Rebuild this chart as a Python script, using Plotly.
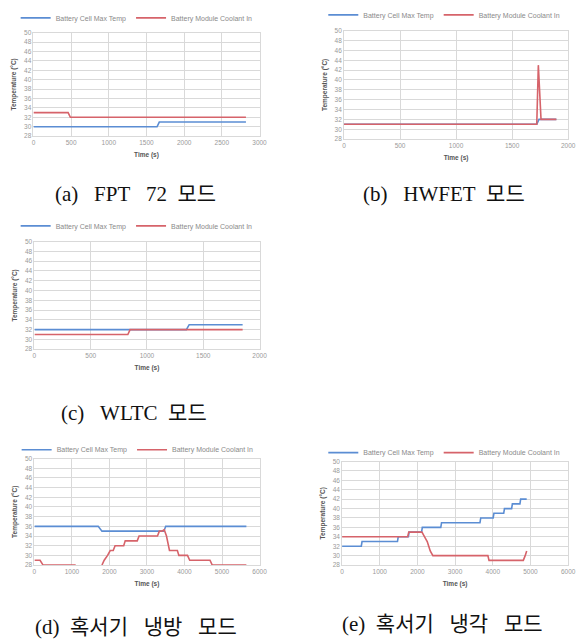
import plotly.graph_objects as go

W, H = 584, 642

# ---------------- data ----------------
# (a) FPT 72
a_cell_t = [0, 1640, 1670, 2820]
a_cell_v = [30, 30, 31, 31]
a_cool_t = [0, 460, 490, 2820]
a_cool_v = [33, 33, 32, 32]

# (b) HWFET
b_cell_t = [0, 1720, 1740, 1895]
b_cell_v = [31, 31, 32, 32]
b_cool_t = [0, 1720, 1734, 1758, 1895]
b_cool_v = [31, 31, 43, 32, 32]

# (c) WLTC
c_cell_t = [0, 1350, 1375, 1850]
c_cell_v = [32, 32, 33, 33]
c_cool_t = [0, 830, 850, 1850]
c_cool_v = [31, 31, 32, 32]

# (d) hot-weather A/C mode
d_cell_t = [0, 1700, 1800, 3450, 3500, 5650]
d_cell_v = [36, 36, 35, 35, 36, 36]
d_cool_t = [0, 150, 230, 1100, None, 1800, 1860, 1950, 2020, 2100, 2150, 2380, 2420,
            2740, 2790, 3280, 3330, 3400, 3460, 3520, 3560, 3600, 3810, 3850, 4080,
            4140, 4680, 4740, 5650]
d_cool_v = [29, 29, 28, 28, None, 28, 29, 30, 31, 31, 32, 32, 33,
            33, 34, 34, 35, 35, 35.3, 34, 32, 31, 31, 30, 30,
            29, 29, 28, 28]

# (e) hot-weather cooling mode
e_cell_t = [0, 510, 530, 1470, 1490, 1760, 1780, 2110, 2130, 2620, 2640, 3660, 3680,
            4010, 4030, 4290, 4310, 4500, 4520, 4720, 4740, 4900]
e_cell_v = [32, 32, 33, 33, 34, 34, 35, 35, 36, 36, 37, 37, 38,
            38, 39, 39, 40, 40, 41, 41, 42, 42]
e_cool_t = [0, 1740, 1770, 2120, 2190, 2260, 2300, 2340, 2410, 3870, 3900, 4810, 4860, 4900]
e_cool_v = [34, 34, 35, 35, 34, 33, 32, 31, 30, 30, 29, 29, 30, 31]

series_names = ["Battery Cell Max Temp", "Battery Module Coolant In"]
S2 = "\u00a0\u00a0"
S3 = "\u00a0\u00a0\u00a0"
captions = ["(a)" + S3 + "FPT" + S3 + "72" + S2 + "모드",
            "(b)" + S3 + "HWFET" + S2 + "모드",
            "(c)" + S3 + "WLTC" + S2 + "모드",
            "(d)" + S2 + "혹서기" + S3 + "냉방" + S3 + "모드",
            "(e)" + S2 + "혹서기" + S3 + "냉각" + S3 + "모드"]
x_max = [3000, 2000, 2000, 6000, 6000]
x_dtick = [500, 500, 500, 1000, 1000]
y_ticks = list(range(28, 51, 2))

panels = [
    (a_cell_t, a_cell_v, a_cool_t, a_cool_v),
    (b_cell_t, b_cell_v, b_cool_t, b_cool_v),
    (c_cell_t, c_cell_v, c_cool_t, c_cool_v),
    (d_cell_t, d_cell_v, d_cool_t, d_cool_v),
    (e_cell_t, e_cell_v, e_cool_t, e_cool_v),
]

# ---------------- layout geometry (pixels) ----------------
# left, right, top, bottom of each plot area
boxes = [
    (32, 262, 27, 132),
    (348, 576, 25, 135),
    (33, 262, 239, 348),
    (33, 262, 459, 567),
    (346, 576, 462, 567),
]
legend_pos = [(137, 12), (450, 9), (137, 223), (138, 450), (450, 453)]
caption_pos = [(136, 191), (450, 191), (134, 413), (136, 630), (448, 627)]

BLUE = "#5b8dd3"
RED = "#d6636a"
GRID = "#d9d9d9"
TICK_FONT = dict(family="Liberation Sans, Arial", size=6.5, color="#9a9a9a")
TITLE_FONT = dict(family="Liberation Sans, Arial", size=6.5, color="#555555")

fig = go.Figure()
layout = {}
annotations = []

for i, (ct, cv, rt, rv) in enumerate(panels):
    n = "" if i == 0 else str(i + 1)
    leg = "legend" + n
    xa, ya = "x" + n, "y" + n
    fig.add_trace(go.Scatter(x=ct, y=cv, mode="lines", name=series_names[0],
                             line=dict(color=BLUE, width=1.6), xaxis=xa, yaxis=ya,
                             legend=leg, connectgaps=False))
    fig.add_trace(go.Scatter(x=rt, y=rv, mode="lines", name=series_names[1],
                             line=dict(color=RED, width=1.6), xaxis=xa, yaxis=ya,
                             legend=leg, connectgaps=False))
    l, r, t, b = boxes[i]
    layout["xaxis" + n] = dict(
        domain=[l / W, r / W], anchor=ya, range=[0, x_max[i]], dtick=x_dtick[i],
        tick0=0, showgrid=True, gridcolor=GRID, gridwidth=0.8, showline=True,
        mirror=True, linecolor=GRID, linewidth=0.8, zeroline=False, ticks="",
        tickfont=TICK_FONT, fixedrange=True,
        title=dict(text="<b>Time (s)</b>", font=TITLE_FONT, standoff=7))
    layout["yaxis" + n] = dict(
        domain=[1 - b / H, 1 - t / H], anchor=xa, range=[28, 50], tickvals=y_ticks,
        showgrid=True, gridcolor=GRID, gridwidth=0.8, showline=True, mirror=True,
        linecolor=GRID, linewidth=0.8, zeroline=False, ticks="",
        tickfont=TICK_FONT, fixedrange=True,
        title=dict(text="<b>Temperature (°C)</b>", font=TITLE_FONT, standoff=6))
    lx, ly = legend_pos[i]
    layout[leg] = dict(orientation="h", x=lx / W, y=1 - ly / H, xanchor="center",
                       yanchor="middle", font=dict(family="Liberation Sans, Arial",
                                                   size=7, color="#8a8a8a"),
                       bgcolor="rgba(0,0,0,0)", itemwidth=30, entrywidth=0,
                       itemclick=False, itemdoubleclick=False)
    cx, cy = caption_pos[i]
    annotations.append(dict(text=captions[i], x=cx / W, y=1 - cy / H, xref="paper",
                            yref="paper", xanchor="center", yanchor="middle",
                            showarrow=False,
                            font=dict(family="Liberation Serif, Noto Sans CJK KR",
                                      size=21, color="#111111")))

fig.update_layout(
    width=W, height=H, margin=dict(l=0, r=0, t=0, b=0),
    paper_bgcolor="white", plot_bgcolor="white", showlegend=True,
    annotations=annotations, **layout)

fig.write_html("out.html", config={"displayModeBar": False})
